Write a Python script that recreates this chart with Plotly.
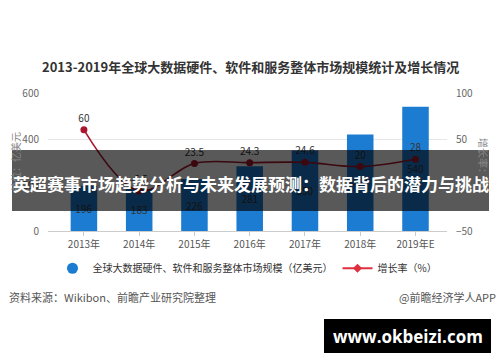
import plotly.graph_objects as go

years = ["2013年", "2014年", "2015年", "2016年", "2017年", "2018年", "2019年E"]
market = [196, 183, 226, 281, 350, 420, 540]
growth = [60, -6.5, 23.5, 24.3, 24.6, 20, 28]
left_ticks = [0, 200, 400, 600]
right_ticks = [-50, 0, 50, 100]

CJK = "Noto Sans CJK SC"
BLUE = "#1c7cd2"
RED = "#a8172e"

fig = go.Figure()
fig.add_trace(go.Bar(
    x=years, y=market, width=0.48, marker=dict(color=BLUE, line=dict(width=0)),
    text=[str(v) for v in market], textposition="inside", insidetextanchor="middle",
    textfont=dict(family=CJK, size=10, color="#333"), showlegend=False, yaxis="y",
    cliponaxis=False,
))
fig.add_trace(go.Scatter(
    x=years, y=growth, yaxis="y2", mode="lines+markers+text",
    line=dict(color=RED, width=1.6, shape="spline"),
    marker=dict(color=RED, size=7),
    text=[str(v) for v in growth], textposition="top center",
    textfont=dict(family=CJK, size=10, color="#333"), showlegend=False,
    cliponaxis=False,
))
# legend entries
fig.add_trace(go.Scatter(
    x=[None], y=[None], mode="markers", marker=dict(symbol="circle", size=11, color=BLUE),
    name="全球大数据硬件、软件和服务整体市场规模（亿美元）",
))
fig.add_trace(go.Scatter(
    x=[None], y=[None], mode="lines+markers", line=dict(color="#e0303f", width=2),
    marker=dict(symbol="diamond", size=7, color="#e0303f"), name="增长率（%）", yaxis="y2",
))

fig.update_layout(
    width=500, height=362, margin=dict(l=48, r=53, t=93, b=131),
    paper_bgcolor="white", plot_bgcolor="white",
    font=dict(family=CJK, size=10, color="#555"),
    bargap=0.52,
    xaxis=dict(range=[-0.65, 6.57], showline=True, linecolor="#cccccc", linewidth=1,
               ticks="outside", ticklen=4, tickcolor="#cccccc",
               tickfont=dict(size=10, color="#555"), showgrid=False),
    yaxis=dict(range=[0, 600], tickvals=left_ticks, showgrid=True, gridcolor="#e6e6e6",
               zeroline=False, ticks="outside", ticklen=6, tickcolor="white",
               tickfont=dict(size=10, color="#666")),
    yaxis2=dict(range=[-50, 100], tickvals=right_ticks, overlaying="y", side="right",
                showgrid=False, zeroline=False, ticks="outside", ticklen=6, tickcolor="white",
                tickfont=dict(size=10, color="#666")),
    legend=dict(orientation="h", x=0.5, xanchor="center", y=-0.27, yanchor="middle",
                font=dict(size=10, color="#333"), itemwidth=30, bgcolor="rgba(0,0,0,0)"),
    showlegend=True,
)

ann = [
    dict(text="<b>2013-2019年全球大数据硬件、软件和服务整体市场规模统计及增长情况</b>",
         x=250, y=66, font=dict(size=13, color="#333")),
    dict(text="单位：亿美元", x=15, y=162, textangle=-90, font=dict(size=10, color="#888")),
    dict(text="增长率：%", x=484, y=162, textangle=90, font=dict(size=10, color="#888")),
    dict(text="资料来源：Wikibon、前瞻产业研究院整理", x=7, y=297, xanchor="left",
         font=dict(size=11, color="#555")),
    dict(text="@前瞻经济学人APP", x=498, y=297, xanchor="right", font=dict(size=11, color="#555")),
    dict(text="<b>英超赛事市场趋势分析与未来发展预测：数据背后的潜力与挑战</b>", x=250.5, y=183,
         font=dict(size=17, color="white")),
    dict(text="<b>www.okbeizi.com</b>", x=407.5, y=336, font=dict(family="Open Sans", size=17, color="white")),
]
for a in ann:
    a.setdefault("xanchor", "center")
    fig.add_annotation(xref="paper", yref="paper", showarrow=False, yanchor="middle",
                       **{k: v for k, v in a.items() if k not in ("x", "y")},
                       x=(a["x"] - 48) / 399, y=(231 - a["y"]) / 138)

fig.add_shape(type="rect", xref="paper", yref="paper",
              x0=(12 - 48) / 399, x1=(489 - 48) / 399, y0=(231 - 211) / 138, y1=(231 - 150) / 138,
              fillcolor="rgba(0,0,0,0.65)", line=dict(width=0), layer="above")
fig.add_shape(type="rect", xref="paper", yref="paper",
              x0=(324 - 48) / 399, x1=(491 - 48) / 399, y0=(231 - 353) / 138, y1=(231 - 319) / 138,
              fillcolor="black", line=dict(width=0), layer="above")

fig.write_html("out.html")
